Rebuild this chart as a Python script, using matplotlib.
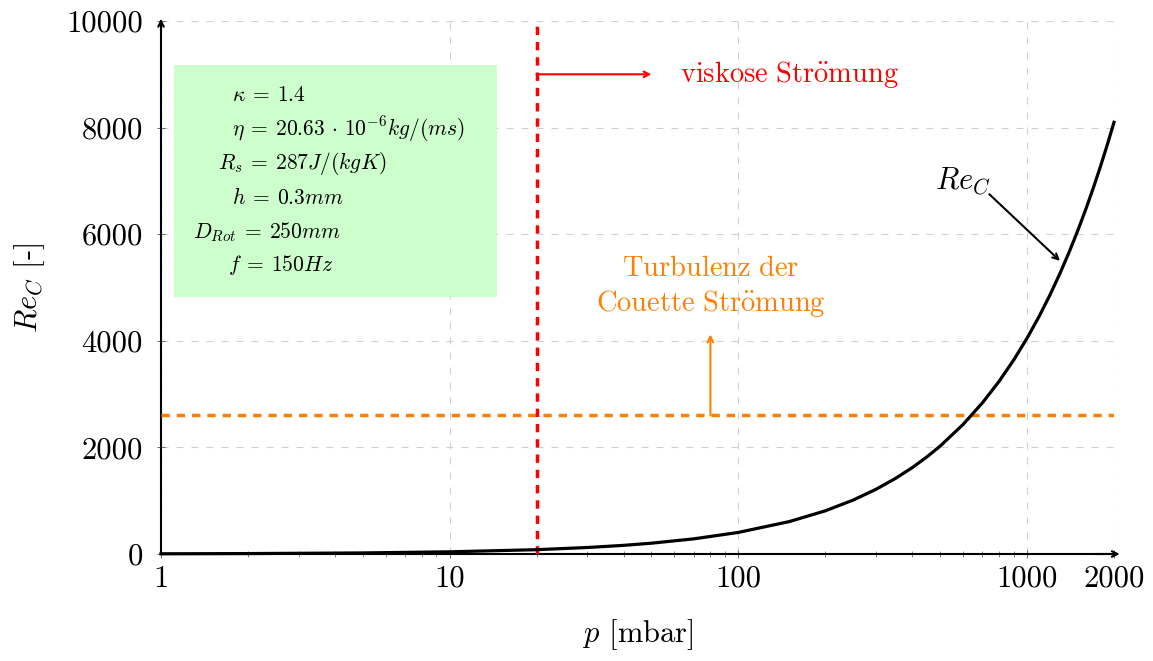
import numpy as np
import matplotlib.pyplot as plt
from matplotlib.ticker import FixedLocator, NullFormatter

plt.rcParams["font.family"] = ["cmr10", "DejaVu Serif"]
plt.rcParams["mathtext.fontset"] = "cm"
plt.rcParams["axes.formatter.use_mathtext"] = True

# Reynolds number of the Couette flow vs. pressure
p_mbar = [1, 2, 5, 10, 20, 30, 40, 50, 70, 100, 150, 200, 250, 300, 350, 400, 450, 500, 600, 700,
          800, 900, 1000, 1100, 1200, 1300, 1400, 1500, 1600, 1700, 1800, 1900, 2000]
re_c = [4, 8, 20, 41, 81, 122, 162, 203, 284, 405, 608, 810, 1013, 1215, 1418, 1620, 1823, 2025,
        2430, 2835, 3240, 3645, 4050, 4455, 4860, 5265, 5670, 6075, 6480, 6885, 7290, 7695, 8100]

re_crit = 2600          # onset of turbulence in Couette flow
p_viscous = 20          # limit of viscous flow regime

x_ticks = [1, 10, 100, 1000, 2000]
y_ticks = [0, 2000, 4000, 6000, 8000, 10000]

params = [
    (r"$\kappa \:=\: 1.4$", 0.0745),
    (r"$\eta \:=\: 20.63 \,\cdot\, 10^{-6} kg/(ms)$", 0.0745),
    (r"$R_s \:=\: 287 J/(kgK)$", 0.0600),
    (r"$h \:=\: 0.3 mm$", 0.0745),
    (r"$D_{Rot} \:=\: 250 mm$", 0.0336),
    (r"$f \:=\: 150 Hz$", 0.0703),
]

RED = "#ff0000"
ORANGE = "#ff8000"

fig = plt.figure(figsize=(11.53, 6.61), dpi=100)
ax = fig.add_axes([161 / 1153, 1 - 554 / 661, 953 / 1153, 533 / 661])

ax.set_xscale("log")
ax.set_xlim(1, 2000)
ax.set_ylim(0, 10000)

ax.grid(True, which="major", color="#d0d0d0", linestyle=(0, (6.3, 7.2)), linewidth=0.8)
ax.xaxis.set_major_locator(FixedLocator(x_ticks))
ax.set_xticklabels([str(t) for t in x_ticks])
ax.xaxis.set_minor_formatter(NullFormatter())
ax.set_yticks(y_ticks)
ax.set_yticklabels([str(t) for t in y_ticks])
ax.tick_params(axis="both", which="major", labelsize=22, direction="inout", length=6, width=0.6, color="#555555")
ax.tick_params(axis="x", which="minor", direction="inout", length=4, width=0.5, color="#555555")
ax.tick_params(axis="x", pad=5)
ax.tick_params(axis="y", pad=10)

for s in ["top", "right"]:
    ax.spines[s].set_visible(False)
for s in ["left", "bottom"]:
    ax.spines[s].set_linewidth(1.5)

# axis arrows
ax.annotate("", xy=(0, 1.004), xycoords="axes fraction", xytext=(0, 0.98),
            arrowprops=dict(arrowstyle="->", lw=1.5, color="black", shrinkA=0, shrinkB=0), annotation_clip=False)
ax.annotate("", xy=(1.006, 0), xycoords="axes fraction", xytext=(0.98, 0),
            arrowprops=dict(arrowstyle="->", lw=1.5, color="black", shrinkA=0, shrinkB=0), annotation_clip=False)

ax.plot(p_mbar, re_c, color="black", linewidth=2.3, zorder=5, clip_on=False, solid_joinstyle="round")

ax.axhline(re_crit, color=ORANGE, linewidth=2.5, linestyle=(0, (2.4, 2.0)), zorder=4)
ax.axvline(p_viscous, color=RED, linewidth=2.5, linestyle=(0, (2.4, 2.0)), zorder=4)

# parameter box
ax.add_patch(plt.Rectangle((0.0136, 0.482), 0.339, 0.4355, transform=ax.transAxes,
                           facecolor="#ccffcc", edgecolor="none", zorder=3))
for i, (txt, x) in enumerate(params):
    ax.text(x, 0.861 - i * 0.0638, txt, transform=ax.transAxes, fontsize=15.5,
            va="center", ha="left", zorder=6)

# viscous flow annotation
ax.annotate("", xy=(50, 9000), xytext=(p_viscous, 9000),
            arrowprops=dict(arrowstyle="->", lw=1.5, color=RED, shrinkA=0, shrinkB=0))
ax.text(63, 9000, r"$\mathrm{viskose\ Str\ddot{o}mung}$", color=RED, fontsize=20.5, va="center", ha="left")

# turbulence annotation
ax.annotate("", xy=(80, 4120), xytext=(80, re_crit),
            arrowprops=dict(arrowstyle="->", lw=1.5, color=ORANGE, shrinkA=0, shrinkB=0))
ax.text(80, 5350, r"$\mathrm{Turbulenz\ der}$", color=ORANGE, fontsize=20.5, va="center", ha="center")
ax.text(80, 4700, r"$\mathrm{Couette\ Str\ddot{o}mung}$", color=ORANGE, fontsize=20.5, va="center", ha="center")

# curve label
ax.annotate("", xy=(1300, 5500), xytext=(740, 6750),
            arrowprops=dict(arrowstyle="->", lw=1.5, color="black", shrinkA=0, shrinkB=0))
ax.text(600, 7000, r"$Re_C$", fontsize=22, ha="center", va="center")

ax.set_xlabel(r"$p$ [mbar]", fontsize=22, labelpad=18)
ax.set_ylabel(r"$Re_C$ [-]", fontsize=22, labelpad=14)

fig.savefig("out.png", dpi=100)
